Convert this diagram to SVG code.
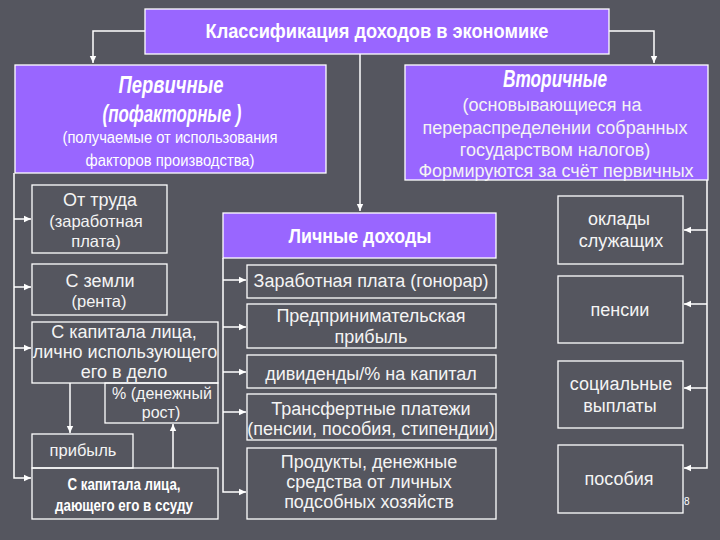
<svg xmlns="http://www.w3.org/2000/svg" width="720" height="540" viewBox="0 0 720 540">
<style>
.bg{fill:#55565f}
.p{fill:#9966ff;stroke:#ffffff;stroke-width:1.3}
.b{fill:none;stroke:#ffffff;stroke-width:1.3}
.t{font-family:"Liberation Sans",Arial,sans-serif;font-size:18px;fill:#f4f4f4;text-anchor:middle}
.m{font-size:16.5px}
.n{font-family:"Liberation Sans",Arial,sans-serif;fill:#ffffff;text-anchor:middle}
.h{font-weight:bold;font-size:21px}
.hi{font-weight:bold;font-style:italic;font-size:23px}
.s{font-size:16px}
.c{fill:none;stroke:#ffffff;stroke-width:1.5}
</style>
<defs>
<marker id="a" markerWidth="8" markerHeight="8" refX="7" refY="4" orient="auto" markerUnits="userSpaceOnUse">
<path d="M0,0.8 L7,4 L0,7.2 Z" fill="#ffffff"/>
</marker>
</defs>
<rect class="bg" x="0" y="0" width="720" height="540"/>

<g id="connectors">
<path class="c" d="M145,31 H93 V63" marker-end="url(#a)"/>
<path class="c" d="M609,31 H654 V63" marker-end="url(#a)"/>
<path class="c" d="M360,54 V211" marker-end="url(#a)"/>
<path class="c" d="M14,173 V478 H31" marker-end="url(#a)"/>
<path class="c" d="M14,219 H31" marker-end="url(#a)"/>
<path class="c" d="M14,287 H31" marker-end="url(#a)"/>
<path class="c" d="M14,348 H31" marker-end="url(#a)"/>
<path class="c" d="M70,383 V433" marker-end="url(#a)"/>
<path class="c" d="M173,468 V424" marker-end="url(#a)"/>
<path class="c" d="M223,258 V492 H246" marker-end="url(#a)"/>
<path class="c" d="M223,280 H246" marker-end="url(#a)"/>
<path class="c" d="M223,327 H246" marker-end="url(#a)"/>
<path class="c" d="M223,372 H246" marker-end="url(#a)"/>
<path class="c" d="M223,412 H246" marker-end="url(#a)"/>
<path class="c" d="M707,180 V468 H684" marker-end="url(#a)"/>
<path class="c" d="M707,230 H684" marker-end="url(#a)"/>
<path class="c" d="M707,304 H684" marker-end="url(#a)"/>
<path class="c" d="M707,388 H684" marker-end="url(#a)"/>
</g>

<g id="title">
<rect class="p" x="145" y="9" width="464" height="45"/>
<text class="n h" x="377" y="38" textLength="343" lengthAdjust="spacingAndGlyphs">Классификация доходов в экономике</text>
</g>

<g id="primary">
<rect class="p" x="15" y="65" width="311" height="108"/>
<text class="n hi" x="171" y="93" textLength="105" lengthAdjust="spacingAndGlyphs">Первичные</text>
<text class="n hi" x="172" y="122" textLength="139" lengthAdjust="spacingAndGlyphs">(пофакторные )</text>
<text class="n s" x="170" y="143" textLength="215" lengthAdjust="spacingAndGlyphs">(получаемые от использования</text>
<text class="n s" x="170" y="166" textLength="169" lengthAdjust="spacingAndGlyphs">факторов производства)</text>
</g>

<g id="secondary">
<rect class="p" x="405" y="65" width="303" height="115"/>
<text class="n hi" x="555" y="87" textLength="104" lengthAdjust="spacingAndGlyphs">Вторичные</text>
<text class="t" x="552" y="111">(основывающиеся на</text>
<text class="t" x="555" y="134">перераспределении собранных</text>
<text class="t" x="555" y="156">государством налогов)</text>
<text class="t" x="556" y="177">Формируются за счёт первичных</text>
</g>

<g id="labor">
<rect class="b" x="32" y="185" width="135" height="68"/>
<text class="t" x="100" y="206">От труда</text>
<text class="t m" x="96" y="227">(заработная</text>
<text class="t m" x="96" y="247">плата)</text>
</g>

<g id="land">
<rect class="b" x="32" y="264" width="135" height="51"/>
<text class="t" x="100" y="287">С земли</text>
<text class="t m" x="99" y="307">(рента)</text>
</g>

<g id="capital-own">
<rect class="b" x="32" y="322" width="186" height="61"/>
<text class="t" x="124" y="338">С капитала лица,</text>
<text class="t" x="125" y="358">лично использующего</text>
<text class="t" x="124" y="378">его в дело</text>
</g>

<g id="percent">
<rect class="b" x="105" y="383" width="113" height="40"/>
<text class="t" style="font-size:16px" x="162" y="399">% (денежный</text>
<text class="t" style="font-size:16px" x="161" y="418">рост)</text>
</g>

<g id="profit">
<rect class="b" x="32" y="434" width="101" height="34"/>
<text class="t m" x="83" y="456">прибыль</text>
</g>

<g id="capital-loan">
<rect class="b" x="32" y="468" width="186" height="51"/>
<text class="n" style="font-weight:bold;font-size:17px" x="124" y="490" textLength="113" lengthAdjust="spacingAndGlyphs">С капитала лица,</text>
<text class="n" style="font-weight:bold;font-size:17px" x="124" y="511" textLength="138" lengthAdjust="spacingAndGlyphs">дающего его в ссуду</text>
</g>

<g id="personal">
<rect class="p" x="223" y="213" width="273" height="45"/>
<text class="n h" x="360" y="243" textLength="143" lengthAdjust="spacingAndGlyphs">Личные доходы</text>
</g>

<g id="wage">
<rect class="b" x="247" y="265" width="249" height="33"/>
<text class="t" x="371" y="287">Заработная плата (гонорар)</text>
</g>

<g id="entrepreneur">
<rect class="b" x="247" y="304" width="249" height="44"/>
<text class="t" x="371" y="322">Предпринимательская</text>
<text class="t" x="371" y="343">прибыль</text>
</g>

<g id="dividends">
<rect class="b" x="247" y="355" width="249" height="33"/>
<text class="t" x="371" y="380">дивиденды/% на капитал</text>
</g>

<g id="transfers">
<rect class="b" x="247" y="394" width="249" height="46"/>
<text class="t" x="371" y="415">Трансфертные платежи</text>
<text class="t" x="371" y="435">(пенсии, пособия, стипендии)</text>
</g>

<g id="products">
<rect class="b" x="247" y="448" width="249" height="71"/>
<text class="t" x="369" y="468">Продукты, денежные</text>
<text class="t" x="369" y="488">средства от личных</text>
<text class="t" x="369" y="508">подсобных хозяйств</text>
</g>

<g id="salaries">
<rect class="b" x="558" y="196" width="125" height="68"/>
<text class="t" x="619" y="225">оклады</text>
<text class="t" x="621" y="247">служащих</text>
</g>

<g id="pensions">
<rect class="b" x="558" y="276" width="125" height="67"/>
<text class="t" x="620" y="316">пенсии</text>
</g>

<g id="social">
<rect class="b" x="558" y="361" width="125" height="67"/>
<text class="t" x="621" y="390">социальные</text>
<text class="t" x="620" y="412">выплаты</text>
</g>

<g id="benefits">
<rect class="b" x="558" y="445" width="125" height="68"/>
<text class="t" x="619" y="485">пособия</text>
<text x="684" y="505" style="font-family:'Liberation Sans',sans-serif;font-size:10px;fill:#ffffff">8</text>
</g>
</svg>
